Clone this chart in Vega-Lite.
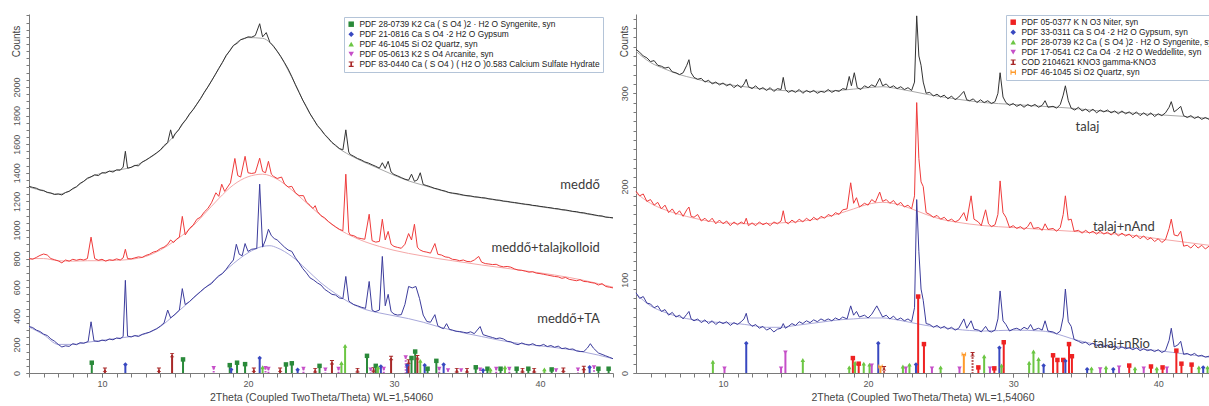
{
"$schema": "https://vega.github.io/schema/vega-lite/v6.json",
"usermeta": {"embedOptions": {"actions": false}},
"padding": {"left": 11, "top": 13, "right": 0, "bottom": 0},
"spacing": 4,
"config": {
  "view": {"stroke": null},
  "axis": {"grid": false, "domainColor": "#7a7a7a", "tickColor": "#7a7a7a", "labelColor": "#555555", "titleColor": "#444444", "labelFont": "Liberation Sans", "titleFont": "Liberation Sans", "titleFontWeight": "normal", "labelFontSize": 9, "labelOverlap": false}
},
"resolve": {"scale": {"color": "independent", "shape": "independent", "x": "independent", "y": "independent"}, "legend": {"color": "independent", "shape": "independent"}},
"datasets": {
"PL": [
{"p":"S","name":"PDF 28-0739 K2 Ca ( S O4 )2 · H2 O Syngenite, syn"},
{"p":"G","name":"PDF 21-0816 Ca S O4 ·2 H2 O Gypsum"},
{"p":"Q","name":"PDF 46-1045 Si O2 Quartz, syn"},
{"p":"A","name":"PDF 05-0613 K2 S O4 Arcanite, syn"},
{"p":"C","name":"PDF 83-0440 Ca ( S O4 ) ( H2 O )0.583 Calcium Sulfate Hydrate"}],
"PR": [
{"p":"N","name":"PDF 05-0377 K N O3 Niter, syn"},
{"p":"G","name":"PDF 33-0311 Ca S O4 ·2 H2 O Gypsum, syn"},
{"p":"S","name":"PDF 28-0739 K2 Ca ( S O4 )2 · H2 O Syngenite, syn"},
{"p":"W","name":"PDF 17-0541 C2 Ca O4 ·2 H2 O Weddellite, syn"},
{"p":"K","name":"\u00a0\u00a0\u00a0COD 2104621 KNO3 gamma-KNO3"},
{"p":"Q","name":"PDF 46-1045 Si O2 Quartz, syn"}],
"TL": [{"t":44.1,"c":1315,"txt":"meddő"},{"t":44.1,"c":874,"txt":"meddő+talajkolloid"},{"t":44.1,"c":378,"txt":"meddő+TA"}],
"TR": [{"t":34.3,"c":264,"txt":"talaj"},{"t":35.5,"c":157,"txt":"talaj+nAnd"},{"t":35.5,"c":31,"txt":"talaj+nRio"}],
"SL": [
{"p":"S","t":9.3,"h":72},{"p":"C","t":10.2,"h":22},{"p":"G","t":11.6,"h":60},{"p":"C","t":13.9,"h":22},{"p":"C","t":14.8,"h":125},{"p":"S","t":15.55,"h":95},{"p":"A","t":17.65,"h":35},{"p":"S","t":18.75,"h":55},{"p":"G","t":18.85,"h":25},{"p":"S","t":19.25,"h":72},{"p":"S","t":19.8,"h":62},{"p":"C","t":20.4,"h":22},{"p":"G","t":20.8,"h":105},{"p":"Q","t":21.0,"h":40},{"p":"A","t":21.2,"h":35},{"p":"A","t":21.4,"h":30},{"p":"C","t":22.2,"h":22},{"p":"S","t":22.6,"h":60},{"p":"S","t":23.0,"h":68},{"p":"G","t":23.4,"h":22},{"p":"A","t":23.8,"h":30},{"p":"C","t":24.6,"h":20},{"p":"S","t":24.9,"h":50},{"p":"A","t":25.3,"h":25},{"p":"C","t":25.75,"h":75},{"p":"A","t":26.2,"h":30},{"p":"Q","t":26.4,"h":70},{"p":"Q","t":26.65,"h":190},{"p":"C","t":27.5,"h":20},{"p":"S","t":28.15,"h":120},{"p":"A","t":28.4,"h":25},{"p":"C","t":28.6,"h":25},{"p":"S","t":28.75,"h":50},{"p":"Q","t":28.9,"h":40},{"p":"G","t":29.1,"h":45},{"p":"A","t":29.3,"h":30},{"p":"C","t":29.8,"h":105},{"p":"A","t":30.8,"h":110},{"p":"G","t":30.9,"h":55},{"p":"C","t":31.0,"h":80},{"p":"S","t":31.2,"h":105},{"p":"S","t":31.45,"h":150},{"p":"C","t":31.6,"h":110},{"p":"Q","t":31.8,"h":85},{"p":"G","t":32.1,"h":55},{"p":"S","t":32.3,"h":30},{"p":"S","t":32.9,"h":85},{"p":"A","t":33.1,"h":30},{"p":"G","t":33.4,"h":60},{"p":"A","t":33.7,"h":20},{"p":"C","t":34.3,"h":20},{"p":"A","t":34.6,"h":20},{"p":"C","t":35.0,"h":20},{"p":"S","t":35.6,"h":40},{"p":"A","t":35.9,"h":25},{"p":"G","t":36.1,"h":20},{"p":"S","t":36.4,"h":30},{"p":"Q","t":36.6,"h":25},{"p":"A","t":37.0,"h":30},{"p":"S","t":37.3,"h":30},{"p":"Q","t":37.6,"h":40},{"p":"A","t":37.9,"h":30},{"p":"S","t":38.4,"h":30},{"p":"C","t":38.8,"h":20},{"p":"S","t":39.2,"h":30},{"p":"C","t":39.6,"h":20},{"p":"Q","t":40.3,"h":25},{"p":"S","t":40.8,"h":25},{"p":"A","t":41.1,"h":20},{"p":"C","t":41.6,"h":22},{"p":"A","t":42.6,"h":25},{"p":"C","t":43.0,"h":35},{"p":"G","t":43.4,"h":40},{"p":"A","t":43.7,"h":40},{"p":"S","t":44.0,"h":30},{"p":"S","t":44.7,"h":30}],
"SR": [
{"p":"S","t":9.3,"h":12},{"p":"W","t":10.1,"h":5},{"p":"G","t":11.6,"h":32},{"p":"W","t":14.0,"h":5},{"p":"W","t":14.3,"h":22},{"p":"S","t":15.5,"h":14},{"p":"S","t":18.7,"h":6},{"p":"N","t":18.95,"h":16},{"p":"S","t":19.1,"h":11},{"p":"N","t":19.35,"h":10},{"p":"S","t":19.7,"h":10},{"p":"S","t":20.1,"h":9},{"p":"W","t":20.25,"h":8},{"p":"G","t":20.7,"h":32},{"p":"Q","t":20.85,"h":7},{"p":"K","t":21.1,"h":5},{"p":"S","t":22.4,"h":7},{"p":"W","t":22.6,"h":5},{"p":"S","t":22.85,"h":9},{"p":"G","t":23.3,"h":9},{"p":"N","t":23.45,"h":82},{"p":"N","t":23.85,"h":31},{"p":"W","t":24.4,"h":5},{"p":"S","t":25.0,"h":6},{"p":"W","t":26.3,"h":5},{"p":"Q","t":26.6,"h":20},{"p":"K","t":27.2,"h":20},{"p":"N","t":27.6,"h":6},{"p":"S","t":28.0,"h":18},{"p":"W","t":28.4,"h":5},{"p":"N","t":28.7,"h":5},{"p":"G","t":29.05,"h":27},{"p":"S","t":29.2,"h":8},{"p":"N","t":29.35,"h":33},{"p":"S","t":31.1,"h":11},{"p":"S","t":31.4,"h":23},{"p":"S","t":31.75,"h":15},{"p":"G","t":32.1,"h":8},{"p":"N","t":32.75,"h":19},{"p":"N","t":33.05,"h":14},{"p":"N","t":33.45,"h":14},{"p":"G","t":33.6,"h":13},{"p":"N","t":33.85,"h":31},{"p":"N","t":34.05,"h":18},{"p":"G","t":35.1,"h":4},{"p":"S","t":35.4,"h":5},{"p":"W","t":36.0,"h":4},{"p":"S","t":36.4,"h":6},{"p":"G","t":36.9,"h":4},{"p":"W","t":37.3,"h":6},{"p":"N","t":38.0,"h":8},{"p":"S","t":38.4,"h":5},{"p":"W","t":39.0,"h":5},{"p":"N","t":39.5,"h":7},{"p":"S","t":39.9,"h":5},{"p":"N","t":40.3,"h":6},{"p":"W","t":40.6,"h":5},{"p":"N","t":41.25,"h":24},{"p":"N","t":41.6,"h":10},{"p":"N","t":42.3,"h":9},{"p":"S","t":42.8,"h":6},{"p":"G","t":43.1,"h":6},{"p":"S","t":43.4,"h":6}],
"LB": [
{"s":"k","t":5,"c":1300},{"s":"k","t":6,"c":1272},{"s":"k","t":7,"c":1250},{"s":"k","t":8,"c":1285},{"s":"k","t":9,"c":1358},{"s":"k","t":10,"c":1398},{"s":"k","t":11,"c":1418},{"s":"k","t":12,"c":1438},{"s":"k","t":13,"c":1488},{"s":"k","t":14,"c":1558},{"s":"k","t":15,"c":1668},{"s":"k","t":16,"c":1808},{"s":"k","t":17,"c":1958},{"s":"k","t":18,"c":2128},{"s":"k","t":19,"c":2288},{"s":"k","t":20,"c":2345},{"s":"k","t":21,"c":2340},{"s":"k","t":22,"c":2248},{"s":"k","t":23,"c":2068},{"s":"k","t":24,"c":1858},{"s":"k","t":25,"c":1698},{"s":"k","t":26,"c":1588},{"s":"k","t":27,"c":1522},{"s":"k","t":28,"c":1472},{"s":"k","t":29,"c":1428},{"s":"k","t":30,"c":1383},{"s":"k","t":31,"c":1343},{"s":"k","t":32,"c":1313},{"s":"k","t":33,"c":1283},{"s":"k","t":34,"c":1256},{"s":"k","t":36,"c":1224},{"s":"k","t":38,"c":1193},{"s":"k","t":40,"c":1163},{"s":"k","t":42,"c":1133},{"s":"k","t":44,"c":1098},{"s":"k","t":45,"c":1083},
{"s":"r","t":5,"c":800},{"s":"r","t":6,"c":800},{"s":"r","t":7,"c":785},{"s":"r","t":8,"c":782},{"s":"r","t":9,"c":785},{"s":"r","t":10,"c":785},{"s":"r","t":11,"c":788},{"s":"r","t":12,"c":795},{"s":"r","t":13,"c":815},{"s":"r","t":14,"c":860},{"s":"r","t":15,"c":925},{"s":"r","t":16,"c":1005},{"s":"r","t":17,"c":1110},{"s":"r","t":18,"c":1220},{"s":"r","t":19,"c":1315},{"s":"r","t":20,"c":1372},{"s":"r","t":21,"c":1390},{"s":"r","t":22,"c":1355},{"s":"r","t":23,"c":1280},{"s":"r","t":24,"c":1190},{"s":"r","t":25,"c":1100},{"s":"r","t":26,"c":1020},{"s":"r","t":27,"c":962},{"s":"r","t":28,"c":918},{"s":"r","t":29,"c":885},{"s":"r","t":30,"c":858},{"s":"r","t":31,"c":836},{"s":"r","t":32,"c":818},{"s":"r","t":33,"c":800},{"s":"r","t":34,"c":785},{"s":"r","t":36,"c":755},{"s":"r","t":38,"c":728},{"s":"r","t":40,"c":700},{"s":"r","t":42,"c":668},{"s":"r","t":44,"c":625},{"s":"r","t":45,"c":600},
{"s":"b","t":5,"c":322},{"s":"b","t":6,"c":268},{"s":"b","t":7,"c":200},{"s":"b","t":8,"c":200},{"s":"b","t":9,"c":215},{"s":"b","t":10,"c":228},{"s":"b","t":11,"c":242},{"s":"b","t":12,"c":255},{"s":"b","t":13,"c":275},{"s":"b","t":14,"c":325},{"s":"b","t":15,"c":410},{"s":"b","t":16,"c":500},{"s":"b","t":17,"c":590},{"s":"b","t":18,"c":675},{"s":"b","t":19,"c":765},{"s":"b","t":20,"c":840},{"s":"b","t":21,"c":885},{"s":"b","t":21.5,"c":890},{"s":"b","t":22,"c":875},{"s":"b","t":23,"c":815},{"s":"b","t":24,"c":725},{"s":"b","t":25,"c":630},{"s":"b","t":26,"c":555},{"s":"b","t":27,"c":490},{"s":"b","t":28,"c":445},{"s":"b","t":29,"c":420},{"s":"b","t":30,"c":400},{"s":"b","t":31,"c":380},{"s":"b","t":32,"c":355},{"s":"b","t":33,"c":325},{"s":"b","t":34,"c":298},{"s":"b","t":36,"c":255},{"s":"b","t":38,"c":215},{"s":"b","t":40,"c":190},{"s":"b","t":42,"c":165},{"s":"b","t":44,"c":125},{"s":"b","t":45,"c":100}],
"RB": [
{"s":"k","t":4,"c":345},{"s":"k","t":5,"c":333},{"s":"k","t":6,"c":326},{"s":"k","t":7,"c":320},{"s":"k","t":8,"c":316},{"s":"k","t":9,"c":312},{"s":"k","t":10,"c":310},{"s":"k","t":12,"c":306},{"s":"k","t":14,"c":303},{"s":"k","t":16,"c":302},{"s":"k","t":18,"c":303},{"s":"k","t":20,"c":306},{"s":"k","t":21,"c":307},{"s":"k","t":22,"c":305},{"s":"k","t":24,"c":299},{"s":"k","t":26,"c":294},{"s":"k","t":28,"c":290},{"s":"k","t":30,"c":288},{"s":"k","t":32,"c":286},{"s":"k","t":34,"c":284},{"s":"k","t":36,"c":281},{"s":"k","t":38,"c":279},{"s":"k","t":40,"c":277},{"s":"k","t":42,"c":275},{"s":"k","t":43.5,"c":273},
{"s":"r","t":4,"c":193},{"s":"r","t":5,"c":182},{"s":"r","t":6,"c":175},{"s":"r","t":7,"c":170},{"s":"r","t":8,"c":166},{"s":"r","t":9,"c":163},{"s":"r","t":10,"c":161},{"s":"r","t":12,"c":160},{"s":"r","t":14,"c":161},{"s":"r","t":16,"c":164},{"s":"r","t":18,"c":171},{"s":"r","t":19,"c":176},{"s":"r","t":20,"c":181},{"s":"r","t":21,"c":183},{"s":"r","t":22,"c":181},{"s":"r","t":23,"c":176},{"s":"r","t":24,"c":170},{"s":"r","t":25,"c":165},{"s":"r","t":26,"c":162},{"s":"r","t":28,"c":158},{"s":"r","t":30,"c":156},{"s":"r","t":32,"c":154},{"s":"r","t":34,"c":152},{"s":"r","t":36,"c":150},{"s":"r","t":38,"c":148},{"s":"r","t":40,"c":144},{"s":"r","t":42,"c":140},{"s":"r","t":43.5,"c":137},
{"s":"b","t":4,"c":85},{"s":"b","t":5,"c":72},{"s":"b","t":6,"c":65},{"s":"b","t":7,"c":60},{"s":"b","t":8,"c":57},{"s":"b","t":9,"c":55},{"s":"b","t":10,"c":54},{"s":"b","t":11,"c":53},{"s":"b","t":12,"c":51},{"s":"b","t":13,"c":49},{"s":"b","t":14,"c":49},{"s":"b","t":15,"c":51},{"s":"b","t":16,"c":53},{"s":"b","t":17,"c":55},{"s":"b","t":18,"c":57},{"s":"b","t":19,"c":58},{"s":"b","t":20,"c":59},{"s":"b","t":21,"c":59},{"s":"b","t":22,"c":57},{"s":"b","t":23,"c":54},{"s":"b","t":24,"c":51},{"s":"b","t":25,"c":49},{"s":"b","t":26,"c":47},{"s":"b","t":28,"c":45},{"s":"b","t":30,"c":46},{"s":"b","t":32,"c":45},{"s":"b","t":33,"c":42},{"s":"b","t":34,"c":37},{"s":"b","t":36,"c":30},{"s":"b","t":38,"c":27},{"s":"b","t":40,"c":24},{"s":"b","t":42,"c":20},{"s":"b","t":43.5,"c":17}],
"L": [
{"s":"k","t":5,"c":1305},{"s":"k","t":5.25,"c":1298},{"s":"k","t":5.5,"c":1292},{"s":"k","t":5.75,"c":1280},{"s":"k","t":6,"c":1276},{"s":"k","t":6.25,"c":1262},{"s":"k","t":6.5,"c":1258},{"s":"k","t":6.75,"c":1248},{"s":"k","t":7,"c":1252},{"s":"k","t":7.25,"c":1245},{"s":"k","t":7.5,"c":1262},{"s":"k","t":7.75,"c":1270},{"s":"k","t":8,"c":1290},{"s":"k","t":8.25,"c":1302},{"s":"k","t":8.5,"c":1326},{"s":"k","t":8.75,"c":1340},{"s":"k","t":9,"c":1362},{"s":"k","t":9.25,"c":1372},{"s":"k","t":9.5,"c":1386},{"s":"k","t":9.75,"c":1380},{"s":"k","t":10,"c":1400},{"s":"k","t":10.25,"c":1398},{"s":"k","t":10.5,"c":1412},{"s":"k","t":10.75,"c":1405},{"s":"k","t":11,"c":1420},{"s":"k","t":11.25,"c":1418},{"s":"k","t":11.45,"c":1440},{"s":"k","t":11.6,"c":1550},{"s":"k","t":11.75,"c":1432},{"s":"k","t":12,"c":1438},{"s":"k","t":12.25,"c":1452},{"s":"k","t":12.5,"c":1448},{"s":"k","t":12.75,"c":1475},{"s":"k","t":13,"c":1488},{"s":"k","t":13.25,"c":1505},{"s":"k","t":13.5,"c":1522},{"s":"k","t":13.75,"c":1540},{"s":"k","t":14,"c":1560},{"s":"k","t":14.25,"c":1590},{"s":"k","t":14.5,"c":1612},{"s":"k","t":14.7,"c":1700},{"s":"k","t":14.85,"c":1640},{"s":"k","t":15,"c":1672},{"s":"k","t":15.25,"c":1700},{"s":"k","t":15.5,"c":1742},{"s":"k","t":15.75,"c":1772},{"s":"k","t":16,"c":1812},{"s":"k","t":16.25,"c":1842},{"s":"k","t":16.5,"c":1880},{"s":"k","t":16.75,"c":1918},{"s":"k","t":17,"c":1962},{"s":"k","t":17.25,"c":2000},{"s":"k","t":17.5,"c":2042},{"s":"k","t":17.75,"c":2085},{"s":"k","t":18,"c":2130},{"s":"k","t":18.25,"c":2172},{"s":"k","t":18.5,"c":2220},{"s":"k","t":18.75,"c":2252},{"s":"k","t":19,"c":2290},{"s":"k","t":19.25,"c":2305},{"s":"k","t":19.5,"c":2330},{"s":"k","t":19.75,"c":2338},{"s":"k","t":20,"c":2350},{"s":"k","t":20.25,"c":2348},{"s":"k","t":20.5,"c":2360},{"s":"k","t":20.8,"c":2442},{"s":"k","t":21,"c":2350},{"s":"k","t":21.25,"c":2380},{"s":"k","t":21.5,"c":2312},{"s":"k","t":21.75,"c":2285},{"s":"k","t":22,"c":2250},{"s":"k","t":22.25,"c":2212},{"s":"k","t":22.5,"c":2170},{"s":"k","t":22.75,"c":2125},{"s":"k","t":23,"c":2072},{"s":"k","t":23.25,"c":2015},{"s":"k","t":23.5,"c":1962},{"s":"k","t":23.75,"c":1908},{"s":"k","t":24,"c":1862},{"s":"k","t":24.25,"c":1812},{"s":"k","t":24.5,"c":1772},{"s":"k","t":24.75,"c":1730},{"s":"k","t":25,"c":1702},{"s":"k","t":25.25,"c":1668},{"s":"k","t":25.5,"c":1642},{"s":"k","t":25.75,"c":1612},{"s":"k","t":26,"c":1592},{"s":"k","t":26.25,"c":1570},{"s":"k","t":26.5,"c":1560},{"s":"k","t":26.7,"c":1700},{"s":"k","t":26.9,"c":1545},{"s":"k","t":27,"c":1528},{"s":"k","t":27.25,"c":1515},{"s":"k","t":27.5,"c":1500},{"s":"k","t":27.75,"c":1490},{"s":"k","t":28,"c":1476},{"s":"k","t":28.25,"c":1468},{"s":"k","t":28.5,"c":1456},{"s":"k","t":28.75,"c":1445},{"s":"k","t":29,"c":1432},{"s":"k","t":29.2,"c":1470},{"s":"k","t":29.4,"c":1430},{"s":"k","t":29.6,"c":1480},{"s":"k","t":29.8,"c":1405},{"s":"k","t":30,"c":1388},{"s":"k","t":30.25,"c":1378},{"s":"k","t":30.5,"c":1366},{"s":"k","t":30.75,"c":1355},{"s":"k","t":31,"c":1348},{"s":"k","t":31.2,"c":1390},{"s":"k","t":31.4,"c":1340},{"s":"k","t":31.6,"c":1350},{"s":"k","t":31.8,"c":1400},{"s":"k","t":32,"c":1318},{"s":"k","t":32.25,"c":1310},{"s":"k","t":32.5,"c":1302},{"s":"k","t":32.75,"c":1292},{"s":"k","t":33,"c":1286},{"s":"k","t":33.25,"c":1278},{"s":"k","t":33.5,"c":1272},{"s":"k","t":33.75,"c":1262},{"s":"k","t":34,"c":1258},{"s":"k","t":34.25,"c":1255},{"s":"k","t":34.5,"c":1250},{"s":"k","t":34.75,"c":1244},{"s":"k","t":35,"c":1240},{"s":"k","t":35.25,"c":1238},{"s":"k","t":35.5,"c":1232},{"s":"k","t":35.75,"c":1230},{"s":"k","t":36,"c":1226},{"s":"k","t":36.25,"c":1224},{"s":"k","t":36.5,"c":1218},{"s":"k","t":36.75,"c":1215},{"s":"k","t":37,"c":1210},{"s":"k","t":37.25,"c":1208},{"s":"k","t":37.5,"c":1202},{"s":"k","t":37.75,"c":1200},{"s":"k","t":38,"c":1195},{"s":"k","t":38.25,"c":1192},{"s":"k","t":38.5,"c":1188},{"s":"k","t":38.75,"c":1184},{"s":"k","t":39,"c":1180},{"s":"k","t":39.25,"c":1178},{"s":"k","t":39.5,"c":1172},{"s":"k","t":39.75,"c":1170},{"s":"k","t":40,"c":1165},{"s":"k","t":40.25,"c":1162},{"s":"k","t":40.5,"c":1158},{"s":"k","t":40.75,"c":1155},{"s":"k","t":41,"c":1150},{"s":"k","t":41.25,"c":1148},{"s":"k","t":41.5,"c":1142},{"s":"k","t":41.75,"c":1140},{"s":"k","t":42,"c":1135},{"s":"k","t":42.25,"c":1130},{"s":"k","t":42.5,"c":1128},{"s":"k","t":42.75,"c":1122},{"s":"k","t":43,"c":1120},{"s":"k","t":43.25,"c":1114},{"s":"k","t":43.5,"c":1110},{"s":"k","t":43.75,"c":1105},{"s":"k","t":44,"c":1100},{"s":"k","t":44.25,"c":1098},{"s":"k","t":44.5,"c":1090},{"s":"k","t":44.75,"c":1088},{"s":"k","t":45,"c":1085},
{"s":"r","t":5,"c":800},{"s":"r","t":5.25,"c":795},{"s":"r","t":5.5,"c":808},{"s":"r","t":5.75,"c":822},{"s":"r","t":6,"c":832},{"s":"r","t":6.25,"c":825},{"s":"r","t":6.5,"c":800},{"s":"r","t":6.75,"c":792},{"s":"r","t":7,"c":784},{"s":"r","t":7.25,"c":770},{"s":"r","t":7.5,"c":790},{"s":"r","t":7.75,"c":782},{"s":"r","t":8,"c":795},{"s":"r","t":8.25,"c":788},{"s":"r","t":8.5,"c":795},{"s":"r","t":8.75,"c":790},{"s":"r","t":9,"c":800},{"s":"r","t":9.25,"c":950},{"s":"r","t":9.5,"c":800},{"s":"r","t":9.75,"c":788},{"s":"r","t":10,"c":795},{"s":"r","t":10.25,"c":782},{"s":"r","t":10.5,"c":792},{"s":"r","t":10.75,"c":788},{"s":"r","t":11,"c":798},{"s":"r","t":11.25,"c":790},{"s":"r","t":11.45,"c":805},{"s":"r","t":11.6,"c":865},{"s":"r","t":11.75,"c":800},{"s":"r","t":12,"c":798},{"s":"r","t":12.25,"c":805},{"s":"r","t":12.5,"c":812},{"s":"r","t":12.75,"c":808},{"s":"r","t":13,"c":822},{"s":"r","t":13.25,"c":830},{"s":"r","t":13.5,"c":845},{"s":"r","t":13.75,"c":852},{"s":"r","t":14,"c":870},{"s":"r","t":14.25,"c":880},{"s":"r","t":14.5,"c":900},{"s":"r","t":14.7,"c":930},{"s":"r","t":14.9,"c":912},{"s":"r","t":15.1,"c":935},{"s":"r","t":15.3,"c":950},{"s":"r","t":15.5,"c":1095},{"s":"r","t":15.7,"c":965},{"s":"r","t":16,"c":1012},{"s":"r","t":16.25,"c":1035},{"s":"r","t":16.5,"c":1075},{"s":"r","t":16.75,"c":1090},{"s":"r","t":17,"c":1125},{"s":"r","t":17.25,"c":1150},{"s":"r","t":17.5,"c":1190},{"s":"r","t":17.8,"c":1260},{"s":"r","t":18,"c":1235},{"s":"r","t":18.2,"c":1320},{"s":"r","t":18.4,"c":1270},{"s":"r","t":18.6,"c":1300},{"s":"r","t":18.8,"c":1330},{"s":"r","t":19.1,"c":1500},{"s":"r","t":19.3,"c":1380},{"s":"r","t":19.5,"c":1370},{"s":"r","t":19.8,"c":1515},{"s":"r","t":20,"c":1400},{"s":"r","t":20.25,"c":1395},{"s":"r","t":20.5,"c":1400},{"s":"r","t":20.8,"c":1502},{"s":"r","t":21,"c":1410},{"s":"r","t":21.2,"c":1400},{"s":"r","t":21.4,"c":1480},{"s":"r","t":21.6,"c":1390},{"s":"r","t":21.75,"c":1375},{"s":"r","t":22,"c":1360},{"s":"r","t":22.3,"c":1370},{"s":"r","t":22.5,"c":1322},{"s":"r","t":22.75,"c":1300},{"s":"r","t":23,"c":1305},{"s":"r","t":23.25,"c":1260},{"s":"r","t":23.5,"c":1240},{"s":"r","t":23.8,"c":1240},{"s":"r","t":24,"c":1195},{"s":"r","t":24.25,"c":1172},{"s":"r","t":24.45,"c":1150},{"s":"r","t":24.6,"c":1170},{"s":"r","t":24.75,"c":1130},{"s":"r","t":25,"c":1100},{"s":"r","t":25.25,"c":1085},{"s":"r","t":25.5,"c":1060},{"s":"r","t":25.75,"c":1040},{"s":"r","t":26,"c":1022},{"s":"r","t":26.25,"c":1005},{"s":"r","t":26.5,"c":995},{"s":"r","t":26.7,"c":1390},{"s":"r","t":26.9,"c":985},{"s":"r","t":27,"c":965},{"s":"r","t":27.25,"c":960},{"s":"r","t":27.5,"c":945},{"s":"r","t":27.75,"c":940},{"s":"r","t":28,"c":935},{"s":"r","t":28.3,"c":1110},{"s":"r","t":28.5,"c":925},{"s":"r","t":28.75,"c":915},{"s":"r","t":29,"c":920},{"s":"r","t":29.2,"c":1075},{"s":"r","t":29.4,"c":930},{"s":"r","t":29.6,"c":990},{"s":"r","t":29.8,"c":900},{"s":"r","t":30,"c":885},{"s":"r","t":30.25,"c":878},{"s":"r","t":30.5,"c":872},{"s":"r","t":30.75,"c":900},{"s":"r","t":31,"c":975},{"s":"r","t":31.2,"c":930},{"s":"r","t":31.4,"c":1040},{"s":"r","t":31.6,"c":880},{"s":"r","t":31.75,"c":862},{"s":"r","t":32,"c":850},{"s":"r","t":32.25,"c":845},{"s":"r","t":32.5,"c":838},{"s":"r","t":32.8,"c":905},{"s":"r","t":33,"c":830},{"s":"r","t":33.25,"c":825},{"s":"r","t":33.5,"c":812},{"s":"r","t":33.75,"c":808},{"s":"r","t":34,"c":795},{"s":"r","t":34.25,"c":792},{"s":"r","t":34.5,"c":785},{"s":"r","t":34.75,"c":790},{"s":"r","t":35,"c":780},{"s":"r","t":35.25,"c":778},{"s":"r","t":35.5,"c":790},{"s":"r","t":35.8,"c":815},{"s":"r","t":36,"c":775},{"s":"r","t":36.25,"c":765},{"s":"r","t":36.5,"c":762},{"s":"r","t":36.75,"c":758},{"s":"r","t":37,"c":760},{"s":"r","t":37.25,"c":748},{"s":"r","t":37.5,"c":742},{"s":"r","t":37.75,"c":745},{"s":"r","t":38,"c":740},{"s":"r","t":38.25,"c":728},{"s":"r","t":38.5,"c":720},{"s":"r","t":38.75,"c":718},{"s":"r","t":39,"c":712},{"s":"r","t":39.25,"c":705},{"s":"r","t":39.5,"c":708},{"s":"r","t":39.75,"c":698},{"s":"r","t":40,"c":695},{"s":"r","t":40.25,"c":690},{"s":"r","t":40.5,"c":685},{"s":"r","t":40.75,"c":680},{"s":"r","t":41,"c":675},{"s":"r","t":41.25,"c":672},{"s":"r","t":41.5,"c":662},{"s":"r","t":41.75,"c":668},{"s":"r","t":42,"c":655},{"s":"r","t":42.25,"c":650},{"s":"r","t":42.5,"c":645},{"s":"r","t":42.75,"c":652},{"s":"r","t":43,"c":640},{"s":"r","t":43.25,"c":638},{"s":"r","t":43.5,"c":632},{"s":"r","t":43.75,"c":628},{"s":"r","t":44,"c":615},{"s":"r","t":44.25,"c":625},{"s":"r","t":44.5,"c":605},{"s":"r","t":44.75,"c":600},{"s":"r","t":45,"c":595},
{"s":"b","t":5,"c":325},{"s":"b","t":5.25,"c":318},{"s":"b","t":5.5,"c":300},{"s":"b","t":5.75,"c":290},{"s":"b","t":6,"c":272},{"s":"b","t":6.25,"c":262},{"s":"b","t":6.5,"c":238},{"s":"b","t":6.75,"c":222},{"s":"b","t":7,"c":200},{"s":"b","t":7.25,"c":182},{"s":"b","t":7.5,"c":190},{"s":"b","t":7.75,"c":186},{"s":"b","t":8,"c":205},{"s":"b","t":8.25,"c":198},{"s":"b","t":8.5,"c":212},{"s":"b","t":8.75,"c":208},{"s":"b","t":9.05,"c":220},{"s":"b","t":9.25,"c":358},{"s":"b","t":9.45,"c":225},{"s":"b","t":9.75,"c":220},{"s":"b","t":10,"c":230},{"s":"b","t":10.25,"c":225},{"s":"b","t":10.5,"c":238},{"s":"b","t":10.75,"c":232},{"s":"b","t":11,"c":245},{"s":"b","t":11.25,"c":240},{"s":"b","t":11.45,"c":255},{"s":"b","t":11.6,"c":648},{"s":"b","t":11.75,"c":258},{"s":"b","t":12,"c":252},{"s":"b","t":12.25,"c":262},{"s":"b","t":12.5,"c":255},{"s":"b","t":12.75,"c":270},{"s":"b","t":13,"c":278},{"s":"b","t":13.25,"c":285},{"s":"b","t":13.5,"c":298},{"s":"b","t":13.75,"c":310},{"s":"b","t":14,"c":328},{"s":"b","t":14.25,"c":350},{"s":"b","t":14.5,"c":440},{"s":"b","t":14.7,"c":385},{"s":"b","t":15,"c":410},{"s":"b","t":15.3,"c":440},{"s":"b","t":15.5,"c":590},{"s":"b","t":15.7,"c":478},{"s":"b","t":16,"c":500},{"s":"b","t":16.25,"c":525},{"s":"b","t":16.5,"c":548},{"s":"b","t":16.75,"c":570},{"s":"b","t":17,"c":592},{"s":"b","t":17.25,"c":610},{"s":"b","t":17.5,"c":625},{"s":"b","t":17.75,"c":655},{"s":"b","t":18,"c":680},{"s":"b","t":18.25,"c":695},{"s":"b","t":18.5,"c":725},{"s":"b","t":18.75,"c":760},{"s":"b","t":19,"c":790},{"s":"b","t":19.2,"c":900},{"s":"b","t":19.4,"c":830},{"s":"b","t":19.6,"c":820},{"s":"b","t":19.8,"c":905},{"s":"b","t":20,"c":850},{"s":"b","t":20.25,"c":865},{"s":"b","t":20.6,"c":870},{"s":"b","t":20.8,"c":1320},{"s":"b","t":21,"c":880},{"s":"b","t":21.2,"c":930},{"s":"b","t":21.4,"c":1005},{"s":"b","t":21.6,"c":960},{"s":"b","t":21.8,"c":940},{"s":"b","t":22,"c":930},{"s":"b","t":22.25,"c":905},{"s":"b","t":22.5,"c":880},{"s":"b","t":22.75,"c":860},{"s":"b","t":23,"c":850},{"s":"b","t":23.25,"c":805},{"s":"b","t":23.5,"c":770},{"s":"b","t":23.75,"c":730},{"s":"b","t":24,"c":700},{"s":"b","t":24.25,"c":665},{"s":"b","t":24.5,"c":650},{"s":"b","t":24.75,"c":630},{"s":"b","t":25,"c":615},{"s":"b","t":25.25,"c":585},{"s":"b","t":25.5,"c":568},{"s":"b","t":25.75,"c":550},{"s":"b","t":26,"c":545},{"s":"b","t":26.25,"c":525},{"s":"b","t":26.5,"c":520},{"s":"b","t":26.7,"c":675},{"s":"b","t":26.9,"c":505},{"s":"b","t":27,"c":495},{"s":"b","t":27.25,"c":478},{"s":"b","t":27.5,"c":470},{"s":"b","t":27.75,"c":460},{"s":"b","t":28.05,"c":452},{"s":"b","t":28.3,"c":640},{"s":"b","t":28.5,"c":440},{"s":"b","t":28.7,"c":428},{"s":"b","t":29,"c":440},{"s":"b","t":29.2,"c":815},{"s":"b","t":29.4,"c":470},{"s":"b","t":29.6,"c":550},{"s":"b","t":29.8,"c":430},{"s":"b","t":30,"c":412},{"s":"b","t":30.25,"c":405},{"s":"b","t":30.5,"c":408},{"s":"b","t":30.75,"c":480},{"s":"b","t":31,"c":605},{"s":"b","t":31.25,"c":595},{"s":"b","t":31.5,"c":605},{"s":"b","t":31.75,"c":520},{"s":"b","t":32,"c":405},{"s":"b","t":32.25,"c":360},{"s":"b","t":32.5,"c":355},{"s":"b","t":32.8,"c":408},{"s":"b","t":33,"c":330},{"s":"b","t":33.25,"c":315},{"s":"b","t":33.4,"c":310},{"s":"b","t":33.6,"c":345},{"s":"b","t":33.8,"c":305},{"s":"b","t":34,"c":300},{"s":"b","t":34.25,"c":292},{"s":"b","t":34.5,"c":290},{"s":"b","t":34.75,"c":285},{"s":"b","t":35,"c":280},{"s":"b","t":35.25,"c":288},{"s":"b","t":35.5,"c":275},{"s":"b","t":35.9,"c":325},{"s":"b","t":36.1,"c":268},{"s":"b","t":36.5,"c":255},{"s":"b","t":36.75,"c":248},{"s":"b","t":37,"c":240},{"s":"b","t":37.25,"c":245},{"s":"b","t":37.5,"c":238},{"s":"b","t":37.75,"c":222},{"s":"b","t":38,"c":218},{"s":"b","t":38.25,"c":205},{"s":"b","t":38.5,"c":198},{"s":"b","t":38.75,"c":210},{"s":"b","t":39,"c":200},{"s":"b","t":39.25,"c":195},{"s":"b","t":39.5,"c":205},{"s":"b","t":39.75,"c":192},{"s":"b","t":40,"c":190},{"s":"b","t":40.25,"c":200},{"s":"b","t":40.5,"c":185},{"s":"b","t":40.75,"c":192},{"s":"b","t":41,"c":180},{"s":"b","t":41.25,"c":188},{"s":"b","t":41.5,"c":170},{"s":"b","t":41.75,"c":175},{"s":"b","t":42,"c":165},{"s":"b","t":42.25,"c":168},{"s":"b","t":42.5,"c":155},{"s":"b","t":42.75,"c":150},{"s":"b","t":43,"c":150},{"s":"b","t":43.25,"c":175},{"s":"b","t":43.45,"c":205},{"s":"b","t":43.65,"c":175},{"s":"b","t":44,"c":140},{"s":"b","t":44.25,"c":130},{"s":"b","t":44.5,"c":120},{"s":"b","t":44.75,"c":110},{"s":"b","t":45,"c":100}],
"R": [
{"s":"k","t":4,"c":347},{"s":"k","t":4.25,"c":344},{"s":"k","t":4.5,"c":340},{"s":"k","t":4.75,"c":338},{"s":"k","t":5,"c":334},{"s":"k","t":5.25,"c":335},{"s":"k","t":5.5,"c":330},{"s":"k","t":5.75,"c":329},{"s":"k","t":6,"c":327},{"s":"k","t":6.25,"c":328},{"s":"k","t":6.5,"c":323},{"s":"k","t":6.75,"c":322},{"s":"k","t":7,"c":320},{"s":"k","t":7.25,"c":322},{"s":"k","t":7.5,"c":330},{"s":"k","t":7.65,"c":336},{"s":"k","t":7.8,"c":322},{"s":"k","t":8,"c":317},{"s":"k","t":8.25,"c":315},{"s":"k","t":8.5,"c":316},{"s":"k","t":8.75,"c":312},{"s":"k","t":9,"c":314},{"s":"k","t":9.25,"c":310},{"s":"k","t":9.5,"c":312},{"s":"k","t":9.75,"c":309},{"s":"k","t":10,"c":311},{"s":"k","t":10.25,"c":308},{"s":"k","t":10.5,"c":310},{"s":"k","t":10.75,"c":306},{"s":"k","t":11,"c":309},{"s":"k","t":11.25,"c":306},{"s":"k","t":11.45,"c":310},{"s":"k","t":11.6,"c":315},{"s":"k","t":11.75,"c":307},{"s":"k","t":12,"c":305},{"s":"k","t":12.25,"c":308},{"s":"k","t":12.5,"c":304},{"s":"k","t":12.75,"c":306},{"s":"k","t":13,"c":303},{"s":"k","t":13.25,"c":306},{"s":"k","t":13.5,"c":302},{"s":"k","t":13.75,"c":305},{"s":"k","t":14,"c":304},{"s":"k","t":14.15,"c":317},{"s":"k","t":14.3,"c":304},{"s":"k","t":14.5,"c":301},{"s":"k","t":14.75,"c":303},{"s":"k","t":15,"c":301},{"s":"k","t":15.25,"c":304},{"s":"k","t":15.5,"c":300},{"s":"k","t":15.75,"c":303},{"s":"k","t":16,"c":301},{"s":"k","t":16.25,"c":303},{"s":"k","t":16.5,"c":300},{"s":"k","t":16.75,"c":302},{"s":"k","t":17,"c":301},{"s":"k","t":17.25,"c":304},{"s":"k","t":17.5,"c":301},{"s":"k","t":17.75,"c":303},{"s":"k","t":18,"c":302},{"s":"k","t":18.25,"c":305},{"s":"k","t":18.5,"c":304},{"s":"k","t":18.7,"c":318},{"s":"k","t":18.85,"c":308},{"s":"k","t":19.05,"c":322},{"s":"k","t":19.25,"c":306},{"s":"k","t":19.5,"c":304},{"s":"k","t":19.75,"c":308},{"s":"k","t":20,"c":306},{"s":"k","t":20.25,"c":309},{"s":"k","t":20.5,"c":307},{"s":"k","t":20.8,"c":316},{"s":"k","t":21,"c":308},{"s":"k","t":21.25,"c":310},{"s":"k","t":21.5,"c":306},{"s":"k","t":21.75,"c":308},{"s":"k","t":22,"c":305},{"s":"k","t":22.25,"c":307},{"s":"k","t":22.5,"c":304},{"s":"k","t":22.75,"c":306},{"s":"k","t":23,"c":303},{"s":"k","t":23.2,"c":312},{"s":"k","t":23.35,"c":383},{"s":"k","t":23.5,"c":340},{"s":"k","t":23.65,"c":330},{"s":"k","t":23.8,"c":312},{"s":"k","t":24,"c":300},{"s":"k","t":24.25,"c":301},{"s":"k","t":24.5,"c":297},{"s":"k","t":24.75,"c":299},{"s":"k","t":25,"c":296},{"s":"k","t":25.25,"c":298},{"s":"k","t":25.5,"c":294},{"s":"k","t":25.75,"c":297},{"s":"k","t":26,"c":293},{"s":"k","t":26.25,"c":296},{"s":"k","t":26.6,"c":302},{"s":"k","t":26.8,"c":293},{"s":"k","t":27,"c":292},{"s":"k","t":27.25,"c":294},{"s":"k","t":27.5,"c":290},{"s":"k","t":27.75,"c":293},{"s":"k","t":28,"c":290},{"s":"k","t":28.25,"c":292},{"s":"k","t":28.5,"c":289},{"s":"k","t":28.75,"c":291},{"s":"k","t":28.95,"c":300},{"s":"k","t":29.1,"c":322},{"s":"k","t":29.3,"c":296},{"s":"k","t":29.5,"c":290},{"s":"k","t":29.75,"c":287},{"s":"k","t":30,"c":289},{"s":"k","t":30.25,"c":286},{"s":"k","t":30.5,"c":288},{"s":"k","t":30.75,"c":285},{"s":"k","t":31,"c":288},{"s":"k","t":31.25,"c":286},{"s":"k","t":31.5,"c":288},{"s":"k","t":31.75,"c":285},{"s":"k","t":32,"c":287},{"s":"k","t":32.2,"c":292},{"s":"k","t":32.4,"c":285},{"s":"k","t":32.75,"c":286},{"s":"k","t":33,"c":284},{"s":"k","t":33.25,"c":288},{"s":"k","t":33.45,"c":298},{"s":"k","t":33.6,"c":308},{"s":"k","t":33.8,"c":292},{"s":"k","t":34,"c":284},{"s":"k","t":34.25,"c":282},{"s":"k","t":34.5,"c":285},{"s":"k","t":34.75,"c":281},{"s":"k","t":35,"c":283},{"s":"k","t":35.25,"c":280},{"s":"k","t":35.5,"c":283},{"s":"k","t":35.75,"c":279},{"s":"k","t":36,"c":282},{"s":"k","t":36.25,"c":280},{"s":"k","t":36.5,"c":282},{"s":"k","t":36.75,"c":279},{"s":"k","t":37,"c":281},{"s":"k","t":37.25,"c":278},{"s":"k","t":37.5,"c":281},{"s":"k","t":37.75,"c":278},{"s":"k","t":38,"c":280},{"s":"k","t":38.25,"c":277},{"s":"k","t":38.5,"c":280},{"s":"k","t":38.75,"c":276},{"s":"k","t":39,"c":279},{"s":"k","t":39.25,"c":276},{"s":"k","t":39.5,"c":279},{"s":"k","t":39.75,"c":275},{"s":"k","t":40,"c":278},{"s":"k","t":40.25,"c":276},{"s":"k","t":40.5,"c":279},{"s":"k","t":40.75,"c":285},{"s":"k","t":40.9,"c":291},{"s":"k","t":41.1,"c":280},{"s":"k","t":41.35,"c":283},{"s":"k","t":41.55,"c":286},{"s":"k","t":41.75,"c":276},{"s":"k","t":42,"c":274},{"s":"k","t":42.25,"c":276},{"s":"k","t":42.5,"c":273},{"s":"k","t":42.75,"c":275},{"s":"k","t":43,"c":272},{"s":"k","t":43.25,"c":274},{"s":"k","t":43.5,"c":272},
{"s":"r","t":4,"c":195},{"s":"r","t":4.25,"c":190},{"s":"r","t":4.5,"c":192},{"s":"r","t":4.75,"c":184},{"s":"r","t":5,"c":186},{"s":"r","t":5.25,"c":180},{"s":"r","t":5.5,"c":183},{"s":"r","t":5.75,"c":176},{"s":"r","t":6,"c":180},{"s":"r","t":6.25,"c":172},{"s":"r","t":6.5,"c":176},{"s":"r","t":6.75,"c":170},{"s":"r","t":7,"c":174},{"s":"r","t":7.25,"c":168},{"s":"r","t":7.5,"c":175},{"s":"r","t":7.65,"c":178},{"s":"r","t":7.8,"c":168},{"s":"r","t":8,"c":167},{"s":"r","t":8.25,"c":170},{"s":"r","t":8.5,"c":163},{"s":"r","t":8.75,"c":166},{"s":"r","t":9,"c":162},{"s":"r","t":9.25,"c":166},{"s":"r","t":9.5,"c":160},{"s":"r","t":9.75,"c":164},{"s":"r","t":10,"c":160},{"s":"r","t":10.25,"c":163},{"s":"r","t":10.5,"c":158},{"s":"r","t":10.75,"c":162},{"s":"r","t":11,"c":159},{"s":"r","t":11.25,"c":162},{"s":"r","t":11.45,"c":160},{"s":"r","t":11.6,"c":166},{"s":"r","t":11.75,"c":158},{"s":"r","t":12,"c":161},{"s":"r","t":12.25,"c":158},{"s":"r","t":12.5,"c":162},{"s":"r","t":12.75,"c":159},{"s":"r","t":13,"c":161},{"s":"r","t":13.25,"c":158},{"s":"r","t":13.5,"c":162},{"s":"r","t":13.75,"c":160},{"s":"r","t":14,"c":163},{"s":"r","t":14.15,"c":174},{"s":"r","t":14.3,"c":162},{"s":"r","t":14.5,"c":160},{"s":"r","t":14.75,"c":164},{"s":"r","t":15,"c":161},{"s":"r","t":15.25,"c":165},{"s":"r","t":15.5,"c":162},{"s":"r","t":15.75,"c":166},{"s":"r","t":16,"c":163},{"s":"r","t":16.25,"c":167},{"s":"r","t":16.5,"c":164},{"s":"r","t":16.75,"c":168},{"s":"r","t":17,"c":166},{"s":"r","t":17.25,"c":170},{"s":"r","t":17.5,"c":168},{"s":"r","t":17.75,"c":172},{"s":"r","t":18,"c":170},{"s":"r","t":18.25,"c":175},{"s":"r","t":18.55,"c":176},{"s":"r","t":18.8,"c":204},{"s":"r","t":19,"c":182},{"s":"r","t":19.2,"c":188},{"s":"r","t":19.4,"c":178},{"s":"r","t":19.75,"c":182},{"s":"r","t":20,"c":180},{"s":"r","t":20.25,"c":186},{"s":"r","t":20.5,"c":183},{"s":"r","t":20.8,"c":194},{"s":"r","t":21,"c":184},{"s":"r","t":21.25,"c":186},{"s":"r","t":21.5,"c":182},{"s":"r","t":21.75,"c":185},{"s":"r","t":22,"c":180},{"s":"r","t":22.25,"c":183},{"s":"r","t":22.5,"c":178},{"s":"r","t":22.75,"c":180},{"s":"r","t":23,"c":176},{"s":"r","t":23.2,"c":190},{"s":"r","t":23.35,"c":290},{"s":"r","t":23.5,"c":230},{"s":"r","t":23.65,"c":205},{"s":"r","t":23.8,"c":200},{"s":"r","t":24,"c":172},{"s":"r","t":24.25,"c":170},{"s":"r","t":24.5,"c":167},{"s":"r","t":24.75,"c":169},{"s":"r","t":25,"c":165},{"s":"r","t":25.25,"c":167},{"s":"r","t":25.5,"c":163},{"s":"r","t":25.75,"c":165},{"s":"r","t":26,"c":162},{"s":"r","t":26.25,"c":164},{"s":"r","t":26.6,"c":172},{"s":"r","t":26.8,"c":163},{"s":"r","t":27.1,"c":190},{"s":"r","t":27.3,"c":165},{"s":"r","t":27.6,"c":162},{"s":"r","t":27.8,"c":158},{"s":"r","t":28.1,"c":175},{"s":"r","t":28.3,"c":160},{"s":"r","t":28.5,"c":157},{"s":"r","t":28.75,"c":159},{"s":"r","t":28.95,"c":170},{"s":"r","t":29.1,"c":206},{"s":"r","t":29.3,"c":172},{"s":"r","t":29.5,"c":167},{"s":"r","t":29.75,"c":156},{"s":"r","t":30,"c":158},{"s":"r","t":30.25,"c":155},{"s":"r","t":30.5,"c":157},{"s":"r","t":30.75,"c":154},{"s":"r","t":31,"c":157},{"s":"r","t":31.2,"c":162},{"s":"r","t":31.4,"c":155},{"s":"r","t":31.75,"c":156},{"s":"r","t":32,"c":153},{"s":"r","t":32.2,"c":160},{"s":"r","t":32.4,"c":154},{"s":"r","t":32.75,"c":155},{"s":"r","t":33,"c":152},{"s":"r","t":33.25,"c":156},{"s":"r","t":33.45,"c":170},{"s":"r","t":33.6,"c":190},{"s":"r","t":33.8,"c":164},{"s":"r","t":34,"c":165},{"s":"r","t":34.2,"c":152},{"s":"r","t":34.5,"c":153},{"s":"r","t":34.75,"c":150},{"s":"r","t":35,"c":153},{"s":"r","t":35.25,"c":150},{"s":"r","t":35.5,"c":152},{"s":"r","t":35.75,"c":149},{"s":"r","t":36,"c":152},{"s":"r","t":36.25,"c":149},{"s":"r","t":36.5,"c":151},{"s":"r","t":36.75,"c":148},{"s":"r","t":37,"c":151},{"s":"r","t":37.25,"c":147},{"s":"r","t":37.5,"c":150},{"s":"r","t":37.75,"c":147},{"s":"r","t":38,"c":149},{"s":"r","t":38.25,"c":145},{"s":"r","t":38.5,"c":148},{"s":"r","t":38.75,"c":144},{"s":"r","t":39,"c":147},{"s":"r","t":39.25,"c":143},{"s":"r","t":39.5,"c":145},{"s":"r","t":39.75,"c":141},{"s":"r","t":40,"c":144},{"s":"r","t":40.25,"c":140},{"s":"r","t":40.5,"c":143},{"s":"r","t":40.75,"c":155},{"s":"r","t":40.9,"c":165},{"s":"r","t":41.1,"c":148},{"s":"r","t":41.35,"c":147},{"s":"r","t":41.55,"c":152},{"s":"r","t":41.75,"c":136},{"s":"r","t":42,"c":137},{"s":"r","t":42.25,"c":134},{"s":"r","t":42.5,"c":138},{"s":"r","t":42.75,"c":134},{"s":"r","t":43,"c":137},{"s":"r","t":43.25,"c":133},{"s":"r","t":43.5,"c":136},
{"s":"b","t":4,"c":86},{"s":"b","t":4.25,"c":80},{"s":"b","t":4.5,"c":82},{"s":"b","t":4.75,"c":75},{"s":"b","t":5,"c":74},{"s":"b","t":5.25,"c":70},{"s":"b","t":5.5,"c":72},{"s":"b","t":5.75,"c":66},{"s":"b","t":6,"c":68},{"s":"b","t":6.25,"c":62},{"s":"b","t":6.5,"c":65},{"s":"b","t":6.75,"c":60},{"s":"b","t":7,"c":62},{"s":"b","t":7.25,"c":58},{"s":"b","t":7.5,"c":63},{"s":"b","t":7.65,"c":66},{"s":"b","t":7.8,"c":58},{"s":"b","t":8,"c":56},{"s":"b","t":8.25,"c":58},{"s":"b","t":8.5,"c":54},{"s":"b","t":8.75,"c":57},{"s":"b","t":9,"c":53},{"s":"b","t":9.25,"c":56},{"s":"b","t":9.5,"c":52},{"s":"b","t":9.75,"c":55},{"s":"b","t":10,"c":53},{"s":"b","t":10.25,"c":55},{"s":"b","t":10.5,"c":51},{"s":"b","t":10.75,"c":54},{"s":"b","t":11,"c":52},{"s":"b","t":11.25,"c":55},{"s":"b","t":11.45,"c":58},{"s":"b","t":11.6,"c":64},{"s":"b","t":11.75,"c":54},{"s":"b","t":12,"c":50},{"s":"b","t":12.25,"c":52},{"s":"b","t":12.5,"c":48},{"s":"b","t":12.75,"c":50},{"s":"b","t":13,"c":46},{"s":"b","t":13.25,"c":48},{"s":"b","t":13.5,"c":44},{"s":"b","t":13.75,"c":47},{"s":"b","t":14,"c":48},{"s":"b","t":14.15,"c":53},{"s":"b","t":14.3,"c":48},{"s":"b","t":14.5,"c":50},{"s":"b","t":14.75,"c":53},{"s":"b","t":15,"c":51},{"s":"b","t":15.25,"c":55},{"s":"b","t":15.5,"c":53},{"s":"b","t":15.75,"c":56},{"s":"b","t":16,"c":54},{"s":"b","t":16.25,"c":57},{"s":"b","t":16.5,"c":55},{"s":"b","t":16.75,"c":58},{"s":"b","t":17,"c":56},{"s":"b","t":17.25,"c":58},{"s":"b","t":17.5,"c":56},{"s":"b","t":17.75,"c":59},{"s":"b","t":18,"c":57},{"s":"b","t":18.25,"c":60},{"s":"b","t":18.55,"c":58},{"s":"b","t":18.8,"c":72},{"s":"b","t":19,"c":62},{"s":"b","t":19.2,"c":66},{"s":"b","t":19.4,"c":60},{"s":"b","t":19.75,"c":62},{"s":"b","t":20,"c":59},{"s":"b","t":20.25,"c":63},{"s":"b","t":20.6,"c":72},{"s":"b","t":20.8,"c":66},{"s":"b","t":21,"c":60},{"s":"b","t":21.25,"c":62},{"s":"b","t":21.5,"c":58},{"s":"b","t":21.75,"c":61},{"s":"b","t":22,"c":57},{"s":"b","t":22.25,"c":59},{"s":"b","t":22.5,"c":56},{"s":"b","t":22.75,"c":58},{"s":"b","t":23,"c":55},{"s":"b","t":23.2,"c":70},{"s":"b","t":23.35,"c":186},{"s":"b","t":23.5,"c":130},{"s":"b","t":23.65,"c":90},{"s":"b","t":23.8,"c":78},{"s":"b","t":24,"c":53},{"s":"b","t":24.25,"c":52},{"s":"b","t":24.5,"c":49},{"s":"b","t":24.75,"c":51},{"s":"b","t":25,"c":48},{"s":"b","t":25.25,"c":50},{"s":"b","t":25.5,"c":47},{"s":"b","t":25.75,"c":49},{"s":"b","t":26,"c":46},{"s":"b","t":26.25,"c":48},{"s":"b","t":26.6,"c":58},{"s":"b","t":26.8,"c":48},{"s":"b","t":27.1,"c":56},{"s":"b","t":27.3,"c":47},{"s":"b","t":27.6,"c":46},{"s":"b","t":27.8,"c":44},{"s":"b","t":28.1,"c":50},{"s":"b","t":28.3,"c":45},{"s":"b","t":28.5,"c":44},{"s":"b","t":28.75,"c":46},{"s":"b","t":28.95,"c":58},{"s":"b","t":29.1,"c":88},{"s":"b","t":29.3,"c":56},{"s":"b","t":29.5,"c":52},{"s":"b","t":29.75,"c":45},{"s":"b","t":30,"c":47},{"s":"b","t":30.25,"c":48},{"s":"b","t":30.5,"c":46},{"s":"b","t":30.75,"c":49},{"s":"b","t":31,"c":47},{"s":"b","t":31.2,"c":52},{"s":"b","t":31.4,"c":46},{"s":"b","t":31.75,"c":48},{"s":"b","t":32,"c":46},{"s":"b","t":32.2,"c":56},{"s":"b","t":32.4,"c":45},{"s":"b","t":32.75,"c":44},{"s":"b","t":33,"c":42},{"s":"b","t":33.25,"c":45},{"s":"b","t":33.45,"c":60},{"s":"b","t":33.6,"c":90},{"s":"b","t":33.8,"c":55},{"s":"b","t":34,"c":50},{"s":"b","t":34.2,"c":36},{"s":"b","t":34.5,"c":34},{"s":"b","t":34.75,"c":32},{"s":"b","t":35,"c":33},{"s":"b","t":35.25,"c":30},{"s":"b","t":35.5,"c":32},{"s":"b","t":35.75,"c":29},{"s":"b","t":36,"c":31},{"s":"b","t":36.25,"c":28},{"s":"b","t":36.5,"c":30},{"s":"b","t":36.75,"c":27},{"s":"b","t":37,"c":29},{"s":"b","t":37.25,"c":26},{"s":"b","t":37.5,"c":28},{"s":"b","t":37.75,"c":26},{"s":"b","t":38,"c":27},{"s":"b","t":38.25,"c":25},{"s":"b","t":38.5,"c":27},{"s":"b","t":38.75,"c":24},{"s":"b","t":39,"c":26},{"s":"b","t":39.25,"c":24},{"s":"b","t":39.5,"c":25},{"s":"b","t":39.75,"c":23},{"s":"b","t":40,"c":25},{"s":"b","t":40.25,"c":22},{"s":"b","t":40.5,"c":24},{"s":"b","t":40.75,"c":35},{"s":"b","t":40.9,"c":48},{"s":"b","t":41.1,"c":28},{"s":"b","t":41.35,"c":30},{"s":"b","t":41.55,"c":34},{"s":"b","t":41.75,"c":20},{"s":"b","t":42,"c":21},{"s":"b","t":42.25,"c":19},{"s":"b","t":42.5,"c":21},{"s":"b","t":42.75,"c":18},{"s":"b","t":43,"c":19},{"s":"b","t":43.25,"c":17},{"s":"b","t":43.5,"c":18}]
},
"hconcat": [
{
 "width": 584, "height": 359,
 "resolve": {"scale": {"stroke": "independent"}, "axis": {"x": "independent", "y": "independent"}},
 "layer": [
  {"data": {"name": "LB"}, "mark": {"type": "line", "interpolate": "monotone", "strokeWidth": 1},
   "encoding": {
    "x": {"field": "t", "type": "quantitative", "scale": {"domain": [5, 45], "nice": false, "zero": false},
      "axis": {"orient": "bottom", "values": [5,6,7,8,9,10,11,12,13,14,15,16,17,18,19,20,21,22,23,24,25,26,27,28,29,30,31,32,33,34,35,36,37,38,39,40,41,42,43,44,45], "labels": false, "domain": false, "title": null, "tickSize": 4}},
    "y": {"field": "c", "type": "quantitative", "scale": {"domain": [0, 2510], "nice": false},
      "axis": {"orient": "left", "values": [0,50,100,150,200,250,300,350,400,450,500,550,600,650,700,750,800,850,900,950,1000,1050,1100,1150,1200,1250,1300,1350,1400,1450,1500,1550,1600,1650,1700,1750,1800,1850,1900,1950,2000,2050,2100,2150,2200,2250,2300,2350,2400,2450,2500], "labels": false, "domain": false, "title": null, "tickSize": 3}},
    "stroke": {"field": "s", "type": "nominal", "scale": {"domain": ["k","r","b"], "range": ["#a8a8a8","#f5a8a8","#a8a8da"]}, "legend": null}
   }},
  {"data": {"name": "L"}, "mark": {"type": "line", "strokeWidth": 1},
   "encoding": {
    "x": {"field": "t", "type": "quantitative",
      "axis": {"orient": "bottom", "values": [10,20,30,40], "format": "d", "title": "2Theta (Coupled TwoTheta/Theta) WL=1,54060", "titleFontSize": 10.5, "tickSize": 4, "labelPadding": 2, "titlePadding": 4, "labelFlush": false}},
    "y": {"field": "c", "type": "quantitative",
      "axis": {"orient": "left", "values": [0,200,400,600,800,1000,1200,1400,1600,1800,2000], "format": "d", "title": "Counts", "titleAngle": 270, "titleX": -13, "titleY": 27, "titleAlign": "center", "titleBaseline": "middle", "titleFontSize": 10, "labelAngle": 270, "labelAlign": "center", "labelBaseline": "bottom", "tickSize": 3, "labelPadding": 5, "labelFlush": false}},
    "stroke": {"field": "s", "type": "nominal", "scale": {"domain": ["k","r","b"], "range": ["#333333","#ef3b3b","#3c3c9c"]}, "legend": null}
   }},
  {"data": {"name": "SL"}, "transform": [{"lookup": "p", "from": {"data": {"name": "PL"}, "key": "p", "fields": ["name"]}}],
   "mark": {"type": "rule", "strokeWidth": 2},
   "encoding": {
    "x": {"field": "t", "type": "quantitative", "axis": null},
    "y": {"field": "h", "type": "quantitative", "axis": null},
    "y2": {"datum": 0},
    "stroke": {"field": "name", "type": "nominal", "scale": {"domain": ["PDF 28-0739 K2 Ca ( S O4 )2 · H2 O Syngenite, syn","PDF 21-0816 Ca S O4 ·2 H2 O Gypsum","PDF 46-1045 Si O2 Quartz, syn","PDF 05-0613 K2 S O4 Arcanite, syn","PDF 83-0440 Ca ( S O4 ) ( H2 O )0.583 Calcium Sulfate Hydrate"], "range": ["#2a8a3a","#3848c0","#6cc644","#c64fc8","#a82828"]}, "legend": null},
    "strokeDash": {"field": "name", "type": "nominal", "scale": {"domain": ["PDF 28-0739 K2 Ca ( S O4 )2 · H2 O Syngenite, syn","PDF 21-0816 Ca S O4 ·2 H2 O Gypsum","PDF 46-1045 Si O2 Quartz, syn","PDF 05-0613 K2 S O4 Arcanite, syn","PDF 83-0440 Ca ( S O4 ) ( H2 O )0.583 Calcium Sulfate Hydrate"], "range": [[1,0],[1,0],[1,0],[1.5,1.5],[1,0]]}, "legend": null}
   }},
  {"data": {"name": "SL"}, "transform": [{"lookup": "p", "from": {"data": {"name": "PL"}, "key": "p", "fields": ["name"]}}],
   "mark": {"type": "point", "filled": true, "opacity": 1, "size": 20},
   "encoding": {
    "x": {"field": "t", "type": "quantitative", "axis": null},
    "y": {"field": "h", "type": "quantitative", "axis": null},
    "color": {"field": "name", "type": "nominal", "scale": {"domain": ["PDF 28-0739 K2 Ca ( S O4 )2 · H2 O Syngenite, syn","PDF 21-0816 Ca S O4 ·2 H2 O Gypsum","PDF 46-1045 Si O2 Quartz, syn","PDF 05-0613 K2 S O4 Arcanite, syn","PDF 83-0440 Ca ( S O4 ) ( H2 O )0.583 Calcium Sulfate Hydrate"], "range": ["#2a8a3a","#3848c0","#6cc644","#c64fc8","#a82828"]},
      "legend": {"orient": "none", "legendX": 315, "legendY": 3, "title": null, "labelFont": "Liberation Sans", "labelFontSize": 8.4, "labelColor": "#222222", "labelLimit": 0, "symbolSize": 30, "rowPadding": 1, "padding": 3, "strokeColor": "#b4c4d8", "fillColor": "#ffffff", "labelOffset": 4}},
    "shape": {"field": "name", "type": "nominal", "scale": {"domain": ["PDF 28-0739 K2 Ca ( S O4 )2 · H2 O Syngenite, syn","PDF 21-0816 Ca S O4 ·2 H2 O Gypsum","PDF 46-1045 Si O2 Quartz, syn","PDF 05-0613 K2 S O4 Arcanite, syn","PDF 83-0440 Ca ( S O4 ) ( H2 O )0.583 Calcium Sulfate Hydrate"], "range": ["square","diamond","triangle-up","triangle-down","M-0.9,-1H0.9V-0.6H0.3V0.6H0.9V1H-0.9V0.6H-0.3V-0.6H-0.9Z"]}}
   }},
  {"data": {"name": "TL"}, "mark": {"type": "text", "align": "right", "baseline": "middle", "font": "Lato", "fontSize": 13, "color": "#3a3a3a"},
   "encoding": {
    "x": {"field": "t", "type": "quantitative", "axis": null},
    "y": {"field": "c", "type": "quantitative", "axis": null},
    "text": {"field": "txt", "type": "nominal"}
   }}
 ]
},
{
 "width": 573, "height": 359,
 "resolve": {"scale": {"stroke": "independent"}, "axis": {"x": "independent", "y": "independent"}},
 "layer": [
  {"data": {"name": "RB"}, "mark": {"type": "line", "interpolate": "monotone", "strokeWidth": 1},
   "encoding": {
    "x": {"field": "t", "type": "quantitative", "scale": {"domain": [4, 43.5], "nice": false, "zero": false},
      "axis": {"orient": "bottom", "values": [5,6,7,8,9,10,11,12,13,14,15,16,17,18,19,20,21,22,23,24,25,26,27,28,29,30,31,32,33,34,35,36,37,38,39,40,41,42,43], "labels": false, "domain": false, "title": null, "tickSize": 4}},
    "y": {"field": "c", "type": "quantitative", "scale": {"domain": [0, 385], "nice": false},
      "axis": {"orient": "left", "values": [0,10,20,30,40,50,60,70,80,90,100,110,120,130,140,150,160,170,180,190,200,210,220,230,240,250,260,270,280,290,300,310,320,330,340,350,360,370,380], "labels": false, "domain": false, "title": null, "tickSize": 3}},
    "stroke": {"field": "s", "type": "nominal", "scale": {"domain": ["k","r","b"], "range": ["#a8a8a8","#f5a8a8","#a8a8da"]}, "legend": null}
   }},
  {"data": {"name": "R"}, "mark": {"type": "line", "strokeWidth": 1},
   "encoding": {
    "x": {"field": "t", "type": "quantitative",
      "axis": {"orient": "bottom", "values": [10,20,30,40], "format": "d", "title": "2Theta (Coupled TwoTheta/Theta) WL=1,54060", "titleFontSize": 10.5, "tickSize": 4, "labelPadding": 2, "titlePadding": 4, "labelFlush": false}},
    "y": {"field": "c", "type": "quantitative",
      "axis": {"orient": "left", "values": [0,100,200,300], "format": "d", "title": "Counts", "titleAngle": 270, "titleX": -12, "titleY": 27, "titleAlign": "center", "titleBaseline": "middle", "titleFontSize": 10, "labelAngle": 270, "labelAlign": "center", "labelBaseline": "bottom", "tickSize": 3, "labelPadding": 4, "labelFlush": false}},
    "stroke": {"field": "s", "type": "nominal", "scale": {"domain": ["k","r","b"], "range": ["#333333","#ef3b3b","#3c3c9c"]}, "legend": null}
   }},
  {"data": {"name": "SR"}, "transform": [{"lookup": "p", "from": {"data": {"name": "PR"}, "key": "p", "fields": ["name"]}}],
   "mark": {"type": "rule", "strokeWidth": 2},
   "encoding": {
    "x": {"field": "t", "type": "quantitative", "axis": null},
    "y": {"field": "h", "type": "quantitative", "axis": null},
    "y2": {"datum": 0},
    "stroke": {"field": "name", "type": "nominal", "scale": {"domain": ["PDF 05-0377 K N O3 Niter, syn","PDF 33-0311 Ca S O4 ·2 H2 O Gypsum, syn","PDF 28-0739 K2 Ca ( S O4 )2 · H2 O Syngenite, syn","PDF 17-0541 C2 Ca O4 ·2 H2 O Weddellite, syn","\u00a0\u00a0\u00a0COD 2104621 KNO3 gamma-KNO3","PDF 46-1045 Si O2 Quartz, syn"], "range": ["#ee2222","#3848c0","#6cc644","#c64fc8","#a82828","#ff9a2a"]}, "legend": null},
    "strokeDash": {"field": "name", "type": "nominal", "scale": {"domain": ["PDF 05-0377 K N O3 Niter, syn","PDF 33-0311 Ca S O4 ·2 H2 O Gypsum, syn","PDF 28-0739 K2 Ca ( S O4 )2 · H2 O Syngenite, syn","PDF 17-0541 C2 Ca O4 ·2 H2 O Weddellite, syn","\u00a0\u00a0\u00a0COD 2104621 KNO3 gamma-KNO3","PDF 46-1045 Si O2 Quartz, syn"], "range": [[1,0],[1,0],[1,0],[1.5,1.5],[1,0],[1,0]]}, "legend": null}
   }},
  {"data": {"name": "SR"}, "transform": [{"lookup": "p", "from": {"data": {"name": "PR"}, "key": "p", "fields": ["name"]}}],
   "mark": {"type": "point", "filled": true, "opacity": 1, "size": 20},
   "encoding": {
    "x": {"field": "t", "type": "quantitative", "axis": null},
    "y": {"field": "h", "type": "quantitative", "axis": null},
    "color": {"field": "name", "type": "nominal", "scale": {"domain": ["PDF 05-0377 K N O3 Niter, syn","PDF 33-0311 Ca S O4 ·2 H2 O Gypsum, syn","PDF 28-0739 K2 Ca ( S O4 )2 · H2 O Syngenite, syn","PDF 17-0541 C2 Ca O4 ·2 H2 O Weddellite, syn","\u00a0\u00a0\u00a0COD 2104621 KNO3 gamma-KNO3","PDF 46-1045 Si O2 Quartz, syn"], "range": ["#ee2222","#3848c0","#6cc644","#c64fc8","#a82828","#ff9a2a"]},
      "legend": {"orient": "none", "legendX": 370, "legendY": 1, "title": null, "labelFont": "Liberation Sans", "labelFontSize": 8.4, "labelColor": "#222222", "labelLimit": 0, "symbolSize": 30, "rowPadding": 1, "padding": 3, "strokeColor": "#b4c4d8", "fillColor": "#ffffff", "labelOffset": 4}},
    "shape": {"field": "name", "type": "nominal", "scale": {"domain": ["PDF 05-0377 K N O3 Niter, syn","PDF 33-0311 Ca S O4 ·2 H2 O Gypsum, syn","PDF 28-0739 K2 Ca ( S O4 )2 · H2 O Syngenite, syn","PDF 17-0541 C2 Ca O4 ·2 H2 O Weddellite, syn","\u00a0\u00a0\u00a0COD 2104621 KNO3 gamma-KNO3","PDF 46-1045 Si O2 Quartz, syn"], "range": ["square","diamond","triangle-up","triangle-down","M-0.9,-1H0.9V-0.6H0.3V0.6H0.9V1H-0.9V0.6H-0.3V-0.6H-0.9Z","M-1,-0.9V0.9H-0.6V0.3H0.6V0.9H1V-0.9H0.6V-0.3H-0.6V-0.9Z"]}}
   }},
  {"data": {"name": "TR"}, "mark": {"type": "text", "align": "left", "baseline": "middle", "font": "Lato", "fontSize": 13, "color": "#3a3a3a"},
   "encoding": {
    "x": {"field": "t", "type": "quantitative", "axis": null},
    "y": {"field": "c", "type": "quantitative", "axis": null},
    "text": {"field": "txt", "type": "nominal"}
   }}
 ]
}
]
}
